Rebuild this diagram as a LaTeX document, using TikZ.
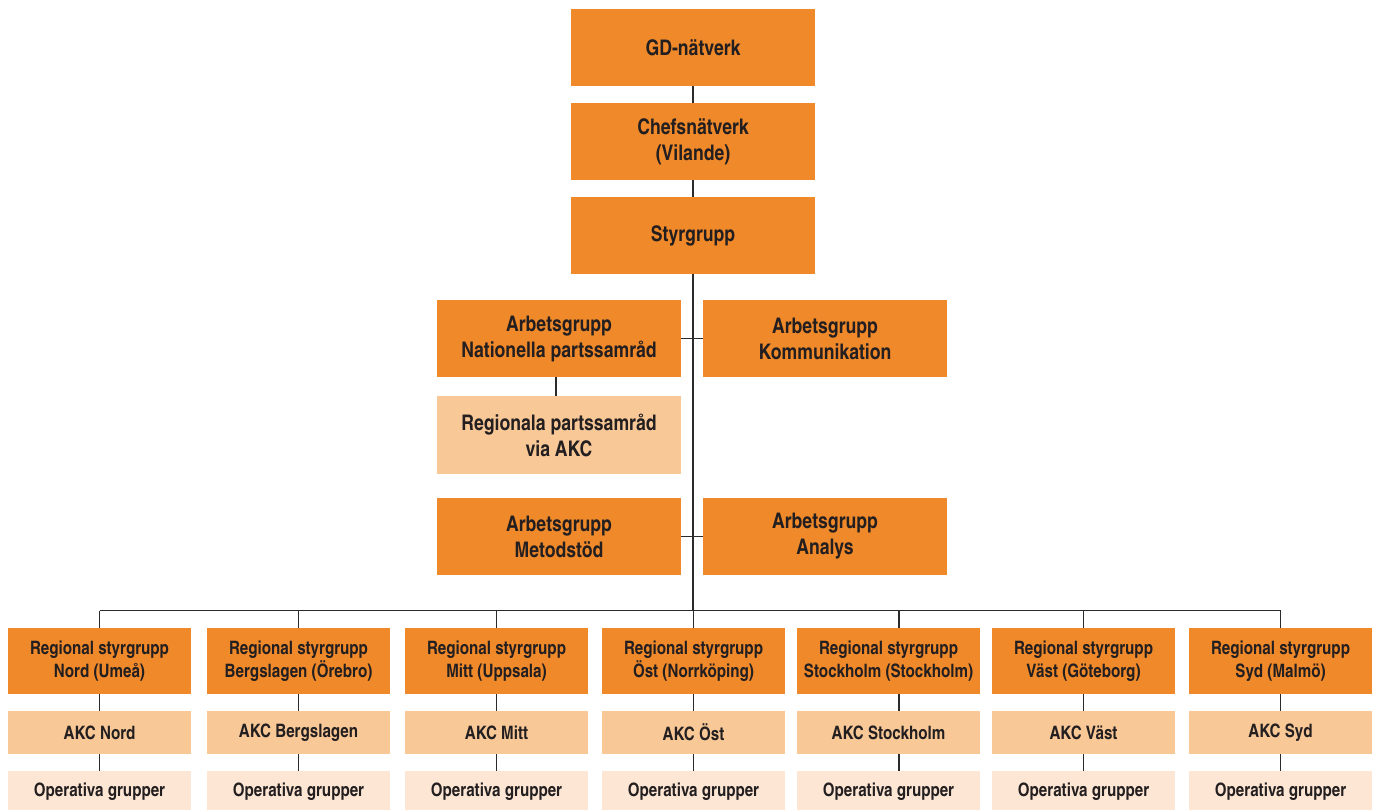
\documentclass[tikz,border=0pt]{standalone}
\usepackage{fontspec}
\setmainfont{texgyreheroscn-bold.otf}
\definecolor{og}{HTML}{F0892A}
\definecolor{akc}{HTML}{F9C897}
\definecolor{opc}{HTML}{FDE6D3}
\definecolor{txt}{HTML}{231F20}
\definecolor{ln}{HTML}{2B2B2B}
\begin{document}
\begin{tikzpicture}[x=1pt,y=-1pt,
  box/.style={rectangle, inner sep=0pt, align=center, text=txt},
  big/.style={box, fill=og, minimum width=244pt, minimum height=77pt, font=\fontsize{21.5}{26}\selectfont},
  bigl/.style={big, fill=akc, minimum height=78pt},
  reg/.style={box, fill=og, minimum width=183pt, minimum height=66pt, font=\fontsize{18.5}{23}\selectfont},
  akcbox/.style={box, fill=akc, minimum width=183pt, minimum height=43pt, font=\fontsize{18.5}{23}\selectfont},
  opbox/.style={box, fill=opc, minimum width=183pt, minimum height=42pt, font=\fontsize{18.5}{23}\selectfont},
  conn/.style={draw=ln, line width=1.2pt}]
\useasboundingbox (0,0) rectangle (1378,809);

% top column
\node[big] (gd) at (693,47.5) {GD-nätverk};
\node[big] (chef) at (693,141.5) {Chefsnätverk\\(Vilande)};
\node[big] (styr) at (693,235.5) {Styrgrupp};

% working groups
\node[big] (nat) at (559,338.5) {Arbetsgrupp\\Nationella partssamråd};
\node[big] (kom) at (825,338.5) {Arbetsgrupp\\Kommunikation};
\node[bigl] (rps) at (559,435) {Regionala partssamråd\\via AKC};
\node[big] (met) at (559,536.5) {Arbetsgrupp\\Metodstöd};
\node[big] (ana) at (825,536.5) {Arbetsgrupp\\Analys};

% regional
\foreach \n/\x/\a/\b/\c in {
  nord/99.5/Nord (Umeå)/AKC Nord/0,
  berg/298.5/Bergslagen (Örebro)/AKC Bergslagen/0,
  mitt/496.5/Mitt (Uppsala)/AKC Mitt/0,
  ost/693.5/Öst (Norrköping)/AKC Öst/0,
  stock/888.5/Stockholm (Stockholm)/AKC Stockholm/10.5,
  vast/1083.5/Väst (Göteborg)/AKC Väst/0,
  syd/1280.5/Syd (Malmö)/AKC Syd/0}{
  \node[reg] (r\n) at (\x,661) {Regional styrgrupp\\\a};
  \node[akcbox] (a\n) at (\x,732.5) {\b};
  \node[opbox] (o\n) at (\x,792) {Operativa grupper};
  \coordinate (t\n) at ([xshift=\c pt]r\n.north);
  \draw[conn] (t\n) -- ++(0,-17) coordinate (bus\n);
  \draw[conn] ([xshift=\c pt]r\n.south) -- ([xshift=\c pt]a\n.north);
  \draw[conn] ([xshift=\c pt]a\n.south) -- ([xshift=\c pt]o\n.north);
}

% connectors
\draw[conn] (gd) -- (chef);
\draw[conn] (chef) -- (styr);
\draw[conn] (styr.south) -- (styr.south |- busost);
\draw[conn] (busnord) -- (bussyd);
\draw[conn] (nat.east) -- (kom.west);
\draw[conn] (met.east) -- (ana.west);
\draw[conn] ([xshift=-3pt]nat.south) -- ([xshift=-3pt]rps.north);
\end{tikzpicture}
\end{document}
